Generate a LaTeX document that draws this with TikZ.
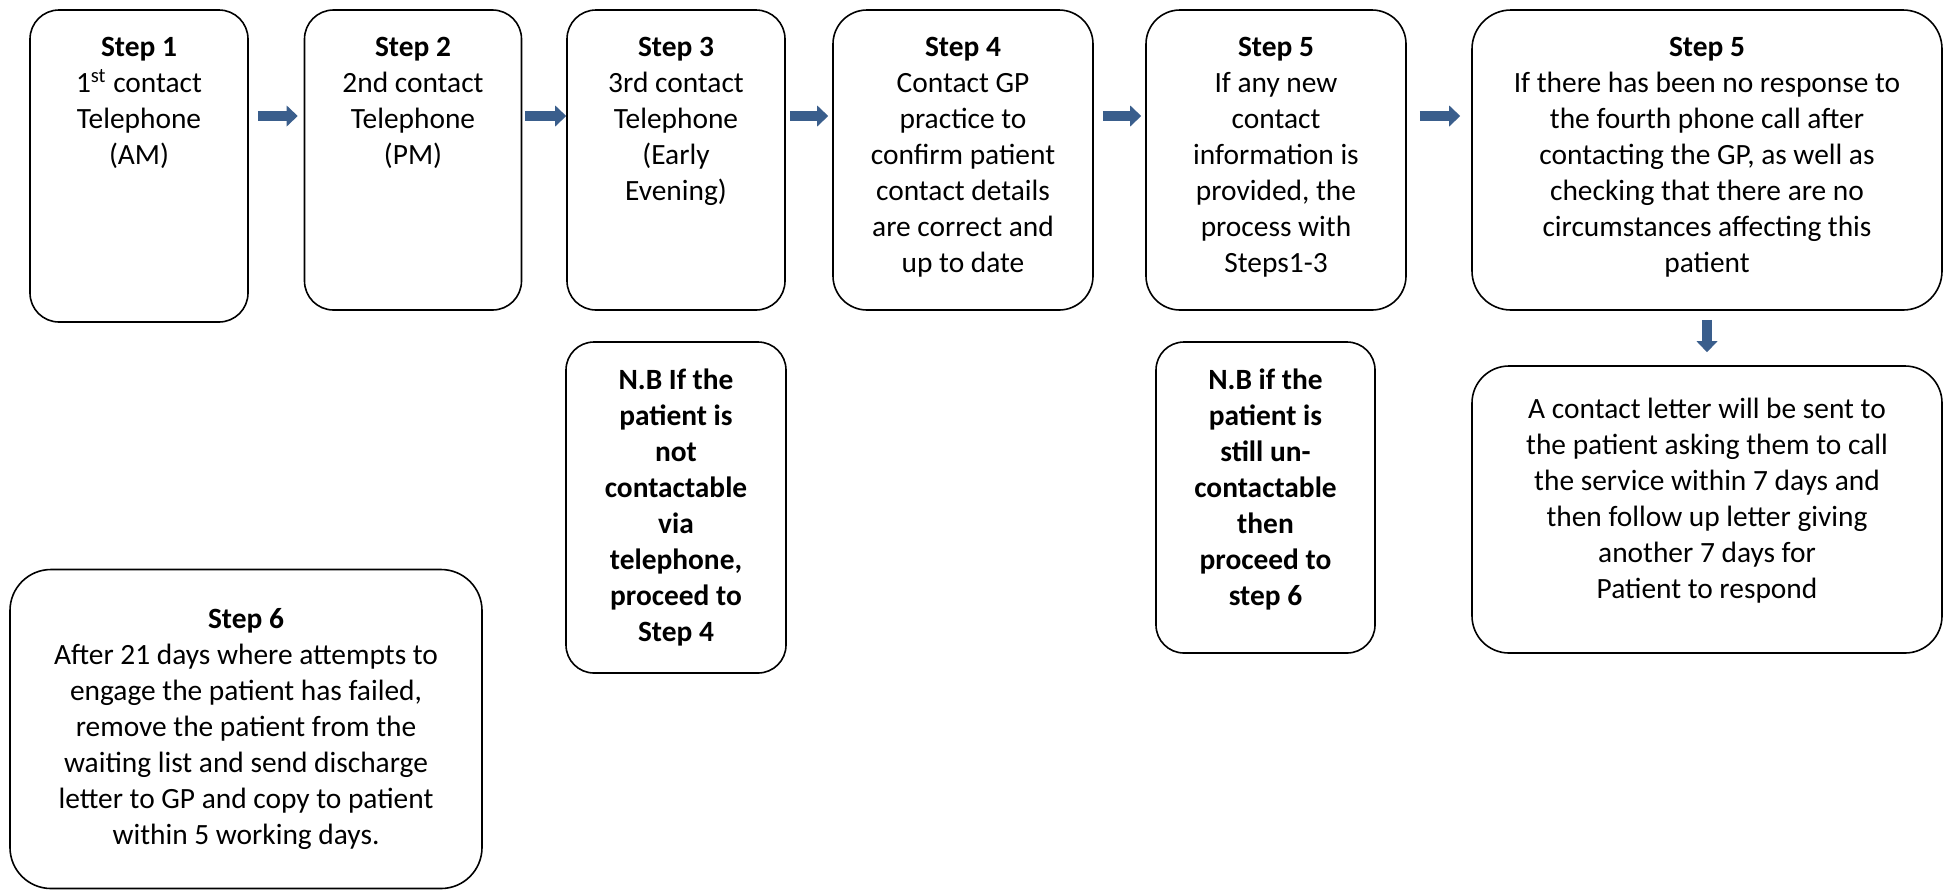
\documentclass[tikz,border=0pt]{standalone}
\usepackage{fontspec}
\setmainfont{Carlito}
\usetikzlibrary{arrows.meta}
\definecolor{arrowblue}{RGB}{58,94,140}
\tikzset{
  stepbox/.style={draw, line width=0.8pt, rounded corners=#1, inner sep=0pt,
    align=center, font=\fontsize{14.7}{18}\selectfont},
  toptext/.style={anchor=north, inner sep=0pt, align=center,
    font=\fontsize{14.7}{18}\selectfont},
  flowarrow/.style={draw=arrowblue, line width=4.75pt,
    -{Triangle[length=5.5pt, width=10.5pt, line width=0pt, fill=arrowblue]}},
}
\begin{document}
\begin{tikzpicture}[x=0.5pt, y=-0.5pt]
\useasboundingbox (0,0) rectangle (1944,891);
% top row
\node[stepbox=14.5pt, minimum width=109pt, minimum height=156pt,
  label={[toptext, yshift=-14pt]north:{\textbf{Step 1}\\1\textsuperscript{st} contact\\Telephone\\(AM)}}] (step1) at (139,166) {};
\node[stepbox=14.5pt, minimum width=108.5pt, minimum height=150pt,
  label={[toptext, yshift=-14pt]north:{\textbf{Step 2}\\2nd contact\\Telephone\\(PM)}}] (step2) at (413,160) {};
\node[stepbox=14.5pt, minimum width=109pt, minimum height=150pt,
  label={[toptext, yshift=-14pt]north:{\textbf{Step 3}\\3rd contact\\Telephone\\(Early\\Evening)}}] (step3) at (676,160) {};
\node[stepbox=17pt, minimum width=130pt, minimum height=150pt,
  label={[toptext, yshift=-14pt]north:{\textbf{Step 4}\\Contact GP\\practice to\\confirm patient\\contact details\\are correct and\\up to date}}] (step4) at (963,160) {};
\node[stepbox=17pt, minimum width=130pt, minimum height=150pt,
  label={[toptext, yshift=-14pt]north:{\textbf{Step 5}\\If any new\\contact\\information is\\provided, the\\process with\\Steps1-3}}] (step5) at (1276,160) {};
\node[stepbox=19.5pt, minimum width=235pt, minimum height=150pt,
  label={[toptext, yshift=-14pt]north:{\textbf{Step 5}\\If there has been no response to\\the fourth phone call after\\contacting the GP, as well as\\checking that there are no\\circumstances affecting this\\patient}}] (followup) at (1707,160) {};
% lower row
\node[stepbox=18.5pt, minimum width=235pt, minimum height=143.5pt,
  label={[toptext, yshift=-16pt]north:{A contact letter will be sent to\\the patient asking them to call\\the service within 7 days and\\then follow up letter giving\\another 7 days for\\Patient to respond}}] (letter) at (1707,509.5) {};
\node[stepbox=14pt, minimum width=110pt, minimum height=165.5pt, font=\fontsize{14.7}{18}\selectfont\bfseries]
  (nbone) at (676,507.5) {N.B If the\\patient is\\not\\contactable\\via\\telephone,\\proceed to\\Step 4};
\node[stepbox=14pt, minimum width=109.5pt, minimum height=155.5pt, font=\fontsize{14.7}{18}\selectfont\bfseries,
  text depth=10pt]
  (nbtwo) at (1265.5,497.5) {N.B if the\\patient is\\still un-\\contactable\\then\\proceed to\\step 6};
\node[stepbox=20.5pt, minimum width=236pt, minimum height=159.5pt]
  (step6) at (246,729) {\textbf{Step 6}\\After 21 days where attempts to\\engage the patient has failed,\\remove the patient from the\\waiting list and send discharge\\letter to GP and copy to patient\\within 5 working days.};
% arrows
\coordinate (arrowrow) at (0,116);
\draw[flowarrow, shorten <=4.5pt, shorten >=3pt] (step1.east |- arrowrow) -- (step2.west |- arrowrow);
\draw[flowarrow, shorten <=1.5pt, shorten >=0pt] (step2.east |- arrowrow) -- (step3.west |- arrowrow);
\draw[flowarrow, shorten <=2pt, shorten >=2pt] (step3.east |- arrowrow) -- (step4.west |- arrowrow);
\draw[flowarrow, shorten <=4.5pt, shorten >=2pt] (step4.east |- arrowrow) -- (step5.west |- arrowrow);
\draw[flowarrow, shorten <=6.5pt, shorten >=5.5pt] (step5.east |- arrowrow) -- (followup.west |- arrowrow);
\draw[flowarrow, shorten <=4.5pt, shorten >=6.5pt] (followup.south) -- (letter.north);
\end{tikzpicture}
\end{document}
